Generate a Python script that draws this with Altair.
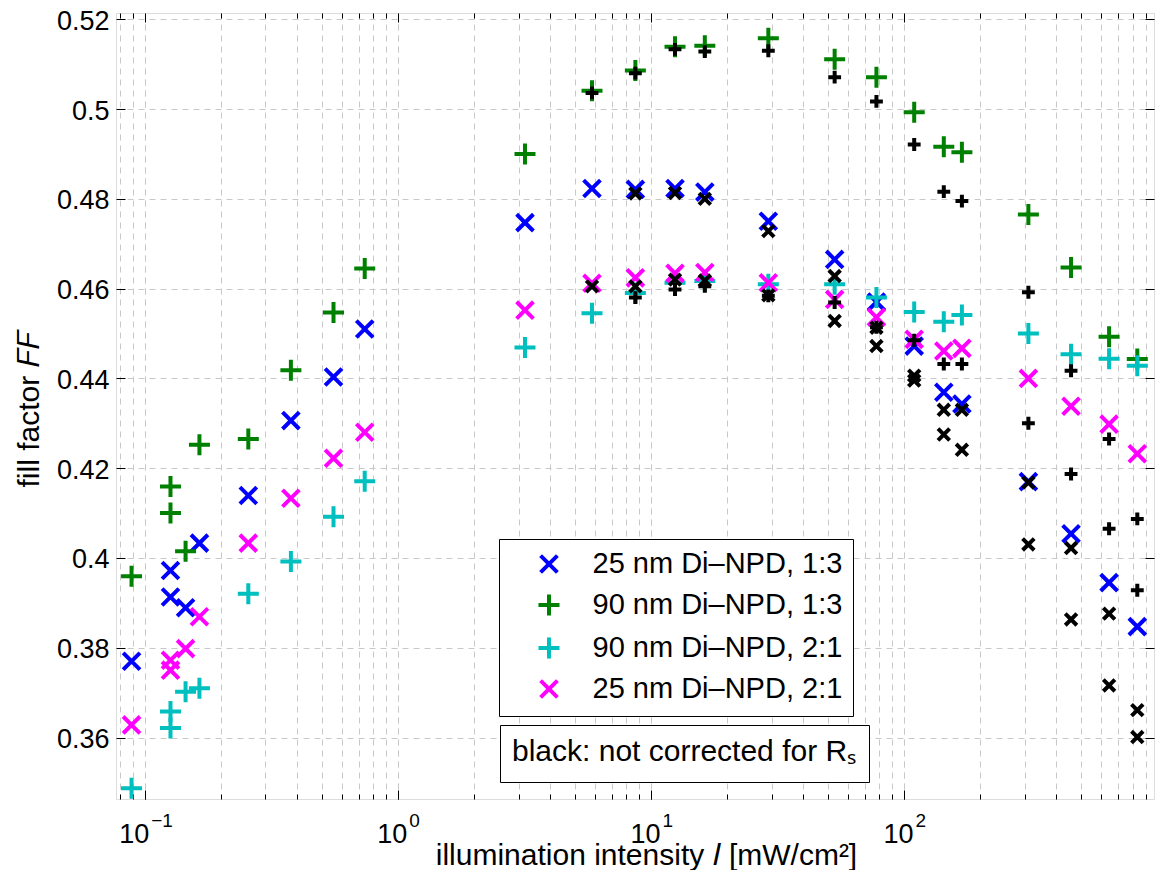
import altair as alt
import pandas as pd

FONT = "Liberation Sans"
GRID = "#c8c8c8"

# ---- data ----
intensity = [0.0887, 0.1264, 0.1264, 0.145, 0.1645, 0.2566, 0.378, 0.557, 0.740,
             3.18, 5.85, 8.68, 12.45, 16.33, 29.1, 53.2, 77.8, 109.7, 143.6, 169.3,
             310, 457, 646, 835]
ff_blue = [0.377, 0.3972, 0.3913, 0.3889, 0.4033, 0.4139, 0.4306, 0.4403, 0.451,
           0.4747, 0.4823, 0.4821, 0.4823, 0.4815, 0.475, 0.4665, 0.457, 0.4472,
           0.4369, 0.4343, 0.417, 0.4054, 0.3945, 0.3847]
ff_green = [0.3959, 0.4159, 0.41, 0.4015, 0.4252, 0.4265, 0.4418, 0.4547, 0.4645,
            0.49, 0.5041, 0.5086, 0.5139, 0.5141, 0.5158, 0.5111, 0.5071, 0.4993,
            0.4916, 0.4904, 0.4765, 0.4647, 0.4493, 0.4443]
ff_cyan = [0.3487, 0.3658, 0.3621, 0.3702, 0.371, 0.392, 0.3992, 0.4092, 0.4171,
           0.4469, 0.4545, 0.459, 0.4613, 0.4617, 0.461, 0.461, 0.458, 0.4548,
           0.4526, 0.4541, 0.45, 0.4454, 0.4444, 0.4428]
ff_magenta = [0.3628, 0.3772, 0.375, 0.3798, 0.3869, 0.4033, 0.4133, 0.4222, 0.428,
              0.4552, 0.4612, 0.4624, 0.4634, 0.4636, 0.4613, 0.4576, 0.4536, 0.4487,
              0.4461, 0.4467, 0.44, 0.4338, 0.4298, 0.4232]

# uncorrected (black) markers
bplus_I = [5.85, 8.68, 8.68, 12.45, 12.45, 16.33, 16.33, 29.1, 29.1, 53.2, 53.2,
           77.8, 77.8, 109.7, 109.7, 143.6, 143.6, 169.3, 169.3, 310, 310, 457, 457,
           646, 646, 835, 835]
bplus_ff = [0.5036, 0.508, 0.458, 0.5133, 0.4598, 0.5128, 0.4605, 0.513, 0.4584,
            0.5071, 0.4569, 0.5017, 0.4514, 0.4921, 0.4485, 0.4816, 0.4432, 0.4795,
            0.4432, 0.4592, 0.43, 0.4417, 0.4187, 0.4265, 0.4065, 0.4087, 0.3928]
bx_I = [5.85, 8.68, 8.68, 12.45, 12.45, 16.33, 16.33, 29.1, 29.1, 53.2, 53.2,
        77.8, 77.8, 109.7, 109.7, 143.6, 143.6, 169.3, 169.3, 310, 310, 457, 457,
        646, 646, 835, 835]
bx_ff = [0.4605, 0.4812, 0.4605, 0.4813, 0.462, 0.48, 0.4618, 0.4728, 0.4585,
         0.4628, 0.4528, 0.4513, 0.4472, 0.4406, 0.4395, 0.433, 0.4275, 0.433,
         0.4241, 0.4168, 0.403, 0.4022, 0.3863, 0.3876, 0.3716, 0.3661, 0.3601]

series_names = ["25 nm Di\u2013NPD, 1:3", "90 nm Di\u2013NPD, 1:3",
                "90 nm Di\u2013NPD, 2:1", "25 nm Di\u2013NPD, 2:1"]
series_colors = ["#0000ff", "#008000", "#00bfbf", "#ff00ff"]
PLUS = "M-1,0L1,0M0,-1L0,1"
CROSS = "M-0.8,-0.8L0.8,0.8M-0.8,0.8L0.8,-0.8"
series_shapes = [CROSS, PLUS, PLUS, CROSS]
note_label = "black: not corrected for R\u209b"

x_major = [0.1, 1, 10, 100]
x_minor = [0.08, 0.09] + [m * d for d in (0.1, 1, 10, 100) for m in range(2, 10)]
y_ticks = [0.36, 0.38, 0.40, 0.42, 0.44, 0.46, 0.48, 0.50, 0.52]


def frame(names, values):
    rows = []
    for n, vals in zip(names, values):
        for i, v in zip(intensity, vals):
            rows.append({"I": i, "FF": v, "series": n})
    return pd.DataFrame(rows)


df_a = frame(series_names[:2], [ff_blue, ff_green])
df_b = frame(series_names[2:], [ff_cyan, ff_magenta])
df_bp = pd.DataFrame({"I": bplus_I, "FF": bplus_ff})
df_bx = pd.DataFrame({"I": bx_I, "FF": bx_ff, "note": ["uncorrected"] * len(bx_I)})

x_scale = alt.Scale(type="log", domain=[0.077, 972], nice=False)
y_scale = alt.Scale(domain=[0.3463, 0.5214], nice=False, zero=False)
color_scale = alt.Scale(domain=series_names, range=series_colors)
shape_scale = alt.Scale(domain=series_names, range=series_shapes)

common = dict(domain=False, tickColor="black", tickWidth=1, labelFont=FONT,
              labelColor="black")

# bottom axis 1: decade ticks + "10" mantissa labels + title
ax_bottom_major = alt.Axis(
    orient="bottom", values=x_major,
    labelExpr="datum.value == 0.1 || datum.value == 1 || datum.value == 10 || datum.value == 100 ? '10' : ''",
    tickSize=9, offset=-9, grid=True, gridColor=GRID, gridDash=[6, 5],
    labelFontSize=27, labelPadding=43, labelBaseline="alphabetic", labelAlign="right",
    labelOffset={"condition": {"test": "datum.value == 0.1", "value": 4}, "value": 9},
    labelFlush=False, labelOverlap=False,
    title="illumination intensity \U0001D43C [mW/cm\u00b2]", titleX=530, titleY=74,
    titleAlign="center", titleBaseline="alphabetic", titleFontSize=30,
    titleFontWeight="normal", titleFont=FONT, titleColor="black", **common)
# bottom axis 2: minor ticks + grid + exponent labels
ax_bottom_minor = alt.Axis(
    orient="bottom", values=x_minor + x_major, tickSize=5, offset=-5,
    labelExpr="datum.value == 0.1 ? '\u22121' : datum.value == 1 ? '0' : "
              "datum.value == 10 ? '1' : datum.value == 100 ? '2' : ''",
    labelFontSize=19, labelPadding=27, labelBaseline="alphabetic", labelAlign="left",
    labelOffset={"condition": {"test": "datum.value == 0.1", "value": 6}, "value": 11},
    labelFlush=False, labelOverlap=False,
    grid=True, gridColor=GRID, gridDash=[6, 5], title=None, **common)
ax_left = alt.Axis(
    orient="left", values=y_ticks, labelExpr="format(datum.value, '.2~f')",
    tickSize=9, offset=-9, grid=True, gridColor=GRID, gridDash=[6, 5],
    labelFontSize=27, labelPadding=7, labelOverlap=False,
    labelBaseline="alphabetic", labelOffset=10,
    title="fill factor \U0001D439\U0001D439", titleX=-87, titleY=396, titleAngle=270,
    titleAlign="center", titleBaseline="alphabetic", titleFontSize=30,
    titleFontWeight="normal", titleFont=FONT, titleColor="black", **common)
ax_right = alt.Axis(orient="right", values=y_ticks, tickSize=9, offset=-9,
                    labels=False, grid=False, title=None, **common)
ax_top_major = alt.Axis(orient="top", values=x_major, tickSize=9, offset=-9,
                        labels=False, grid=False, title=None, **common)
ax_top_minor = alt.Axis(orient="top", values=x_minor, tickSize=5, offset=-5,
                        labels=False, grid=False, title=None, **common)

leg = alt.Legend(orient="none", legendX=383, legendY=526, title=None,
                 strokeColor="black", fillColor="white", padding=10.5,
                 symbolOffset=25, labelOffset=29, rowPadding=6,
                 labelFontSize=29, labelFont=FONT, labelColor="black", labelLimit=600,
                 symbolSize=441, symbolStrokeWidth=4,
                 labelExpr="datum.label + '\u00a0\u00a0\u00a0'")
# second box: the note is the legend title; its single entry is hidden
leg2 = alt.Legend(orient="none", legendX=384, legendY=712,
                  title=note_label + "\u00a0", titleFontSize=30, titleFont=FONT,
                  titleFontWeight="normal", titleColor="black", titlePadding=2,
                  titleLimit=600,
                  strokeColor="black", fillColor="white", padding=12,
                  symbolSize=0, symbolStrokeWidth=0, symbolOpacity=0,
                  labelExpr="''", labelFontSize=1, rowPadding=0)

pt = dict(filled=False, size=441, strokeWidth=4, opacity=1)

layer_a = alt.Chart(df_a).mark_point(**pt).encode(
    x=alt.X("I:Q", scale=x_scale, axis=ax_bottom_major),
    y=alt.Y("FF:Q", scale=y_scale, axis=ax_left),
    color=alt.Color("series:N", scale=color_scale, legend=leg),
    shape=alt.Shape("series:N", scale=shape_scale, legend=leg),
)
layer_b = alt.Chart(df_b).mark_point(**pt).encode(
    x=alt.X("I:Q", scale=x_scale, axis=ax_bottom_minor),
    y=alt.Y("FF:Q", scale=y_scale, axis=ax_right),
    color=alt.Color("series:N", scale=color_scale, legend=leg),
    shape=alt.Shape("series:N", scale=shape_scale, legend=leg),
)
layer_bp = alt.Chart(df_bp).mark_point(
    shape=PLUS, filled=False, size=165, strokeWidth=4, color="black", opacity=1
).encode(
    x=alt.X("I:Q", scale=x_scale, axis=ax_top_major),
    y=alt.Y("FF:Q", scale=y_scale, axis=None),
)
layer_bx = alt.Chart(df_bx).mark_point(
    shape=CROSS, filled=False, size=210, strokeWidth=4, color="black"
).encode(
    x=alt.X("I:Q", scale=x_scale, axis=ax_top_minor),
    y=alt.Y("FF:Q", scale=y_scale, axis=None),
    opacity=alt.Opacity("note:N", scale=alt.Scale(range=[1, 1]), legend=leg2),
)

chart = alt.layer(layer_a, layer_b, layer_bp, layer_bx).resolve_axis(
    x="independent", y="independent"
).properties(
    width=1038, height=786,
    autosize=alt.AutoSizeParams(type="none"),
    padding={"left": 108, "top": 5, "right": 2, "bottom": 71},
    background="white",
).configure_view(stroke="black", strokeWidth=1.5).configure(font=FONT)

chart.save("out.html", embed_options={"renderer": "svg", "actions": False})
